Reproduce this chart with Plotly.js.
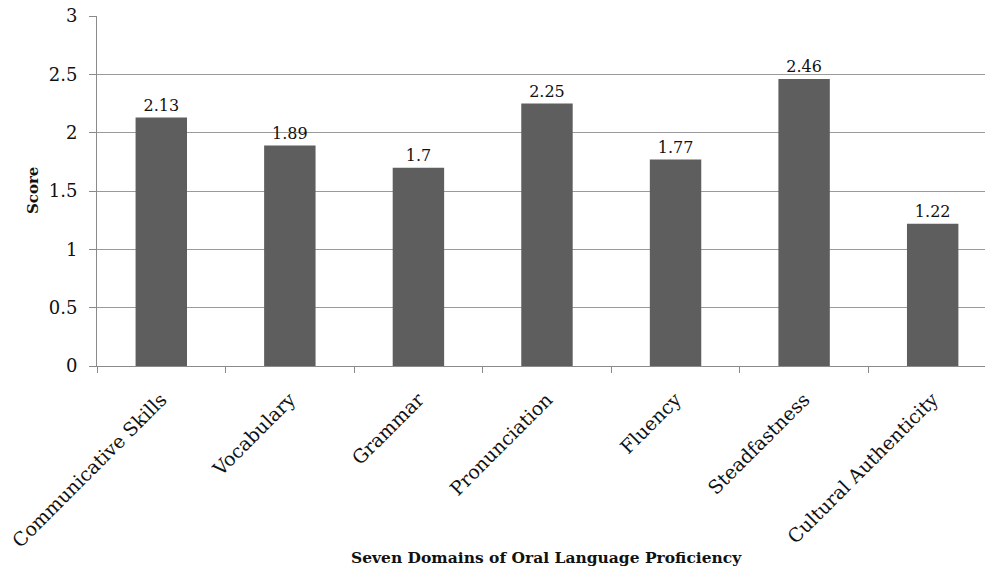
<!DOCTYPE html>
<html>
<head>
<meta charset="utf-8">
<script src="https://cdn.plot.ly/plotly-3.0.1.min.js"></script>
<style>
  html, body { margin: 0; padding: 0; background: #fff; }
  #chart { width: 985px; height: 571px; }
</style>
</head>
<body>
<div id="chart"></div>
<script>
// Seven domains and their mean scores
const domains = [
  "Communicative Skills",
  "Vocabulary",
  "Grammar",
  "Pronunciation",
  "Fluency",
  "Steadfastness",
  "Cultural Authenticity"
];
const scores = [2.13, 1.89, 1.7, 2.25, 1.77, 2.46, 1.22];
const yTicks = [0, 0.5, 1, 1.5, 2, 2.5, 3];
const yTickLabels = ["0", "0.5", "1", "1.5", "2", "2.5", "3"];

const FONT = "'DejaVu Serif', 'Liberation Serif', serif";

const trace = {
  type: "bar",
  x: domains,
  y: scores,
  text: scores.map(v => String(v)),
  textposition: "outside",
  textfont: { family: FONT, size: 16, color: "#111" },
  cliponaxis: false,
  marker: { color: "#5e5e5e", line: { width: 0 } },
  hoverinfo: "x+y"
};

const layout = {
  width: 985,
  height: 571,
  margin: { l: 97, r: 0, t: 15.5, b: 205, pad: 0 },
  paper_bgcolor: "#ffffff",
  plot_bgcolor: "#ffffff",
  showlegend: false,
  bargap: 0.6,
  font: { family: FONT, size: 16, color: "#111" },
  xaxis: {
    type: "category",
    range: [-0.5, 6.407],
    tickangle: -45,
    ticks: "outside",
    tickson: "boundaries",
    ticklen: 6,
    tickcolor: "#8a8a8a",
    showline: true,
    linecolor: "#8a8a8a",
    linewidth: 1,
    showgrid: false,
    ticklabelstandoff: 14,
    tickfont: { family: FONT, size: 19, color: "#111" },
    automargin: false,
    fixedrange: true
  },
  yaxis: {
    range: [0, 3],
    tickvals: yTicks,
    ticktext: yTickLabels,
    ticks: "outside",
    ticklen: 7,
    tickcolor: "#8a8a8a",
    showline: true,
    linecolor: "#8a8a8a",
    linewidth: 1,
    showgrid: true,
    gridcolor: "#9a9a9a",
    gridwidth: 1,
    zeroline: false,
    ticklabelstandoff: 8,
    tickfont: { family: FONT, size: 18, color: "#111" },
    automargin: false,
    fixedrange: true
  },
  annotations: [
    {
      text: "<b>Seven Domains of Oral Language Proficiency</b>",
      xref: "x", yref: "paper",
      x: 3, y: 0,
      yshift: -203,
      xanchor: "center", yanchor: "bottom",
      showarrow: false,
      font: { family: FONT, size: 15.5, color: "#111" }
    },
    {
      text: "<b>Score</b>",
      xref: "paper", yref: "paper",
      x: 0, y: 0.5,
      xshift: -64,
      textangle: -90,
      xanchor: "center", yanchor: "middle",
      showarrow: false,
      font: { family: FONT, size: 15, color: "#111" }
    }
  ]
};

Plotly.newPlot("chart", [trace], layout, { displayModeBar: false, staticPlot: true });
</script>
</body>
</html>
